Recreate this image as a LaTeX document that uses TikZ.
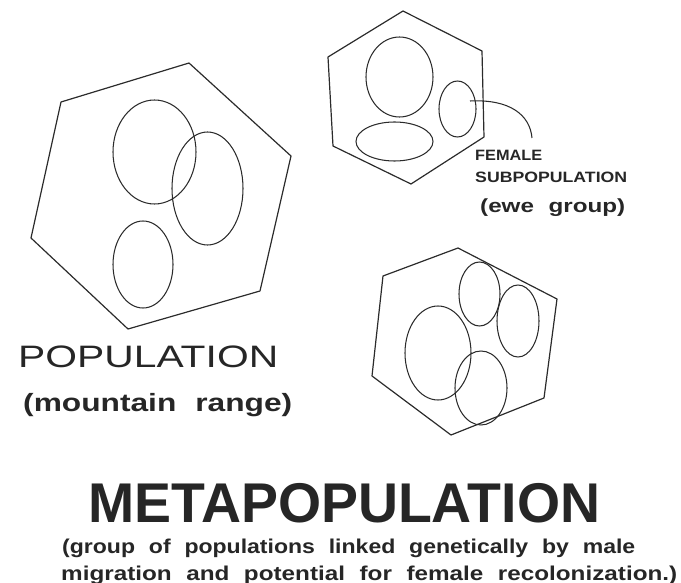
\documentclass[tikz,border=0pt]{standalone}
\usepackage{fontspec}
\setmainfont{Liberation Sans}
\usepackage{graphicx}
\usepackage{tikz}
\usetikzlibrary{positioning}
\definecolor{inkmain}{HTML}{2B2B2B}
\definecolor{inktext}{HTML}{262626}
% stretch a text to a given width, keeping its height
\newcommand{\fitwidth}[3]{\resizebox{#1}{\height}{\fontsize{#2}{#2}\selectfont\spaceskip=.6em\relax #3}}
\tikzset{
  outline/.style={draw=inkmain,line width=1.2pt,line join=round},
  blob/.style={draw=inkmain,line width=1.05pt},
  caption/.style={inner sep=0pt,anchor=base west,text=inktext},
}

\begin{document}
\begin{tikzpicture}[x=1pt,y=-1pt]
  \useasboundingbox (0,0) rectangle (681,583);
  % population (mountain range)
  \draw[outline] (61,102)--(189,63)--(291,156)--(260,291)--(128,329)--(31,238)--cycle;
  \draw[blob] (154.5,152) ellipse (41.5 and 52);
  \draw[blob] (207.5,188.5) ellipse (35.5 and 56.5);
  \draw[blob] (143,264.5) ellipse (30 and 43.5);
  % hexagon with the ewe group
  \draw[outline] (403,11)--(482,51)--(484,137)--(411,184)--(333,146)--(328,57)--cycle;
  \draw[blob] (399.5,77) ellipse (33.5 and 40);
  \draw[blob] (394.5,141.5) ellipse (38.5 and 19.5);
  \draw[blob] (457.5,109) ellipse (18.5 and 28);
  % lower hexagon
  \draw[outline] (458,248)--(557,299)--(544,398)--(451,435)--(372,376)--(383,276)--cycle;
  \draw[blob] (479.5,294) ellipse (20.5 and 32);
  \draw[blob] (518,321) ellipse (21 and 36);
  \draw[blob] (438,353) ellipse (33 and 47);
  \draw[blob] (481,388) ellipse (26 and 37);

  \node[caption] (pop) at (18,367) {\fitwidth{260pt}{31}{POPULATION}};
  \node[caption] (range) at (23,411) {\fitwidth{269pt}{25}{\bfseries (mountain range)}};
  \node[caption] (female) at (475,161) {\fitwidth{67pt}{15}{\bfseries FEMALE}};
  \node[caption] (subpop) at (475,183) {\fitwidth{152pt}{15}{\bfseries SUBPOPULATION}};
  \node[caption] (ewe) at (480,213) {\fitwidth{145pt}{19}{\bfseries (ewe group)}};
  \node[caption] (meta) at (88,522) {\fitwidth{512pt}{56}{\bfseries METAPOPULATION}};
  \node[caption] (lineone) at (62,553) {\fitwidth{573pt}{20}{\bfseries (group of populations linked genetically by male}};
  \node[caption] (linetwo) at (61,580) {\fitwidth{616pt}{20}{\bfseries migration and potential for female recolonization.)}};

  \coordinate (ewepoint) at (470,101);
  \coordinate (femaletop) at (532,138);
  \draw[blob] (ewepoint) .. controls (510,99) and (530,115) .. (femaletop);
\end{tikzpicture}
\end{document}
